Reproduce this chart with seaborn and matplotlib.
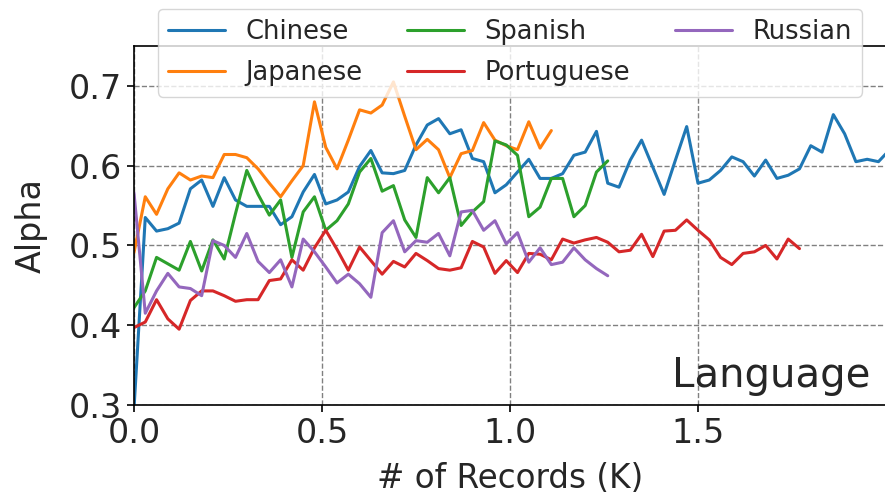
import matplotlib
matplotlib.use("Agg")
import matplotlib.pyplot as plt
import numpy as np
import pandas as pd
import seaborn as sns

# step between samples, in thousands of records
step = 0.03

chinese = [0.295, 0.535, 0.518, 0.521, 0.528, 0.571, 0.582, 0.549, 0.585, 0.557,
           0.549, 0.549, 0.549, 0.526, 0.536, 0.567, 0.589, 0.552, 0.557, 0.567,
           0.599, 0.619, 0.591, 0.590, 0.594, 0.626, 0.651, 0.659, 0.640, 0.645,
           0.609, 0.605, 0.566, 0.576, 0.592, 0.608, 0.584, 0.584, 0.590, 0.613,
           0.617, 0.643, 0.578, 0.573, 0.607, 0.632, 0.598, 0.564, 0.607, 0.649,
           0.578, 0.582, 0.594, 0.611, 0.605, 0.587, 0.607, 0.584, 0.588, 0.596,
           0.625, 0.617, 0.664, 0.640, 0.605, 0.608, 0.605, 0.620]
japanese = [0.491, 0.561, 0.539, 0.571, 0.591, 0.582, 0.587, 0.585, 0.614, 0.614,
            0.610, 0.596, 0.578, 0.561, 0.581, 0.600, 0.680, 0.623, 0.596, 0.632,
            0.670, 0.666, 0.676, 0.705, 0.662, 0.620, 0.633, 0.620, 0.585, 0.615,
            0.619, 0.654, 0.632, 0.625, 0.620, 0.655, 0.622, 0.644]
spanish = [0.422, 0.443, 0.485, 0.477, 0.469, 0.505, 0.468, 0.507, 0.483, 0.540,
           0.594, 0.564, 0.538, 0.557, 0.485, 0.542, 0.561, 0.519, 0.531, 0.552,
           0.592, 0.609, 0.568, 0.575, 0.532, 0.510, 0.585, 0.566, 0.585, 0.525,
           0.542, 0.555, 0.631, 0.626, 0.613, 0.536, 0.548, 0.584, 0.584, 0.536,
           0.550, 0.592, 0.606]
portuguese = [0.397, 0.404, 0.432, 0.408, 0.395, 0.431, 0.443, 0.443, 0.437, 0.430,
              0.432, 0.432, 0.456, 0.458, 0.482, 0.469, 0.497, 0.519, 0.495, 0.469,
              0.498, 0.481, 0.464, 0.480, 0.473, 0.490, 0.481, 0.471, 0.469, 0.472,
              0.505, 0.498, 0.465, 0.481, 0.466, 0.490, 0.489, 0.482, 0.508, 0.503,
              0.507, 0.510, 0.504, 0.492, 0.494, 0.514, 0.486, 0.518, 0.519, 0.532,
              0.519, 0.507, 0.485, 0.476, 0.490, 0.492, 0.500, 0.483, 0.508, 0.496]
russian = [0.566, 0.415, 0.443, 0.465, 0.448, 0.446, 0.437, 0.506, 0.500, 0.485,
           0.515, 0.480, 0.466, 0.482, 0.448, 0.508, 0.492, 0.473, 0.453, 0.464,
           0.452, 0.435, 0.516, 0.531, 0.492, 0.506, 0.504, 0.515, 0.487, 0.542,
           0.544, 0.519, 0.531, 0.502, 0.516, 0.479, 0.497, 0.476, 0.479, 0.497,
           0.482, 0.471, 0.462]

series = {"Chinese": chinese, "Japanese": japanese, "Spanish": spanish,
          "Portuguese": portuguese, "Russian": russian}
colors = ["#1f77b4", "#ff7f0e", "#2ca02c", "#d62728", "#9467bd"]

rows = []
for lang, vals in series.items():
    for i, v in enumerate(vals):
        rows.append((lang, i * step, v))
df = pd.DataFrame(rows, columns=["Language", "Records", "Alpha"])

sns.set_style("ticks")
plt.rcParams["font.family"] = ["DejaVu Sans"]

fig = plt.figure(figsize=(8.85, 4.99), dpi=100)
ax = fig.add_axes([0.1514, 0.1884, 0.8497, 0.7194])
sns.lineplot(data=df, x="Records", y="Alpha", hue="Language",
             palette=colors, linewidth=2.2, estimator=None, ax=ax)

ax.set_xlim(0, 2.0)
ax.set_ylim(0.3, 0.75)
ax.set_xticks([0, 0.5, 1.0, 1.5])
ax.set_yticks([0.3, 0.4, 0.5, 0.6, 0.7])
ax.tick_params(labelsize=24, length=5, width=1.2, color="black")
ax.grid(True, linestyle="--", color="gray", linewidth=1)
for s in ax.spines.values():
    s.set_color("black")
    s.set_linewidth(1.2)
ax.spines["right"].set_visible(False)
ax.set_xlabel("# of Records (K)", fontsize=23.5, labelpad=9)
ax.set_ylabel("Alpha", fontsize=24, labelpad=15)

ax.text(0.979, 0.05, "Language", transform=ax.transAxes, ha="right",
        va="baseline", fontsize=29)

ax.legend(ncol=3, loc="upper center", bbox_to_anchor=(0.5, 1.14), fontsize=18.5,
          columnspacing=1.75, handlelength=2.2, labelspacing=0.6, frameon=True)

fig.savefig("out.png", dpi=100)
